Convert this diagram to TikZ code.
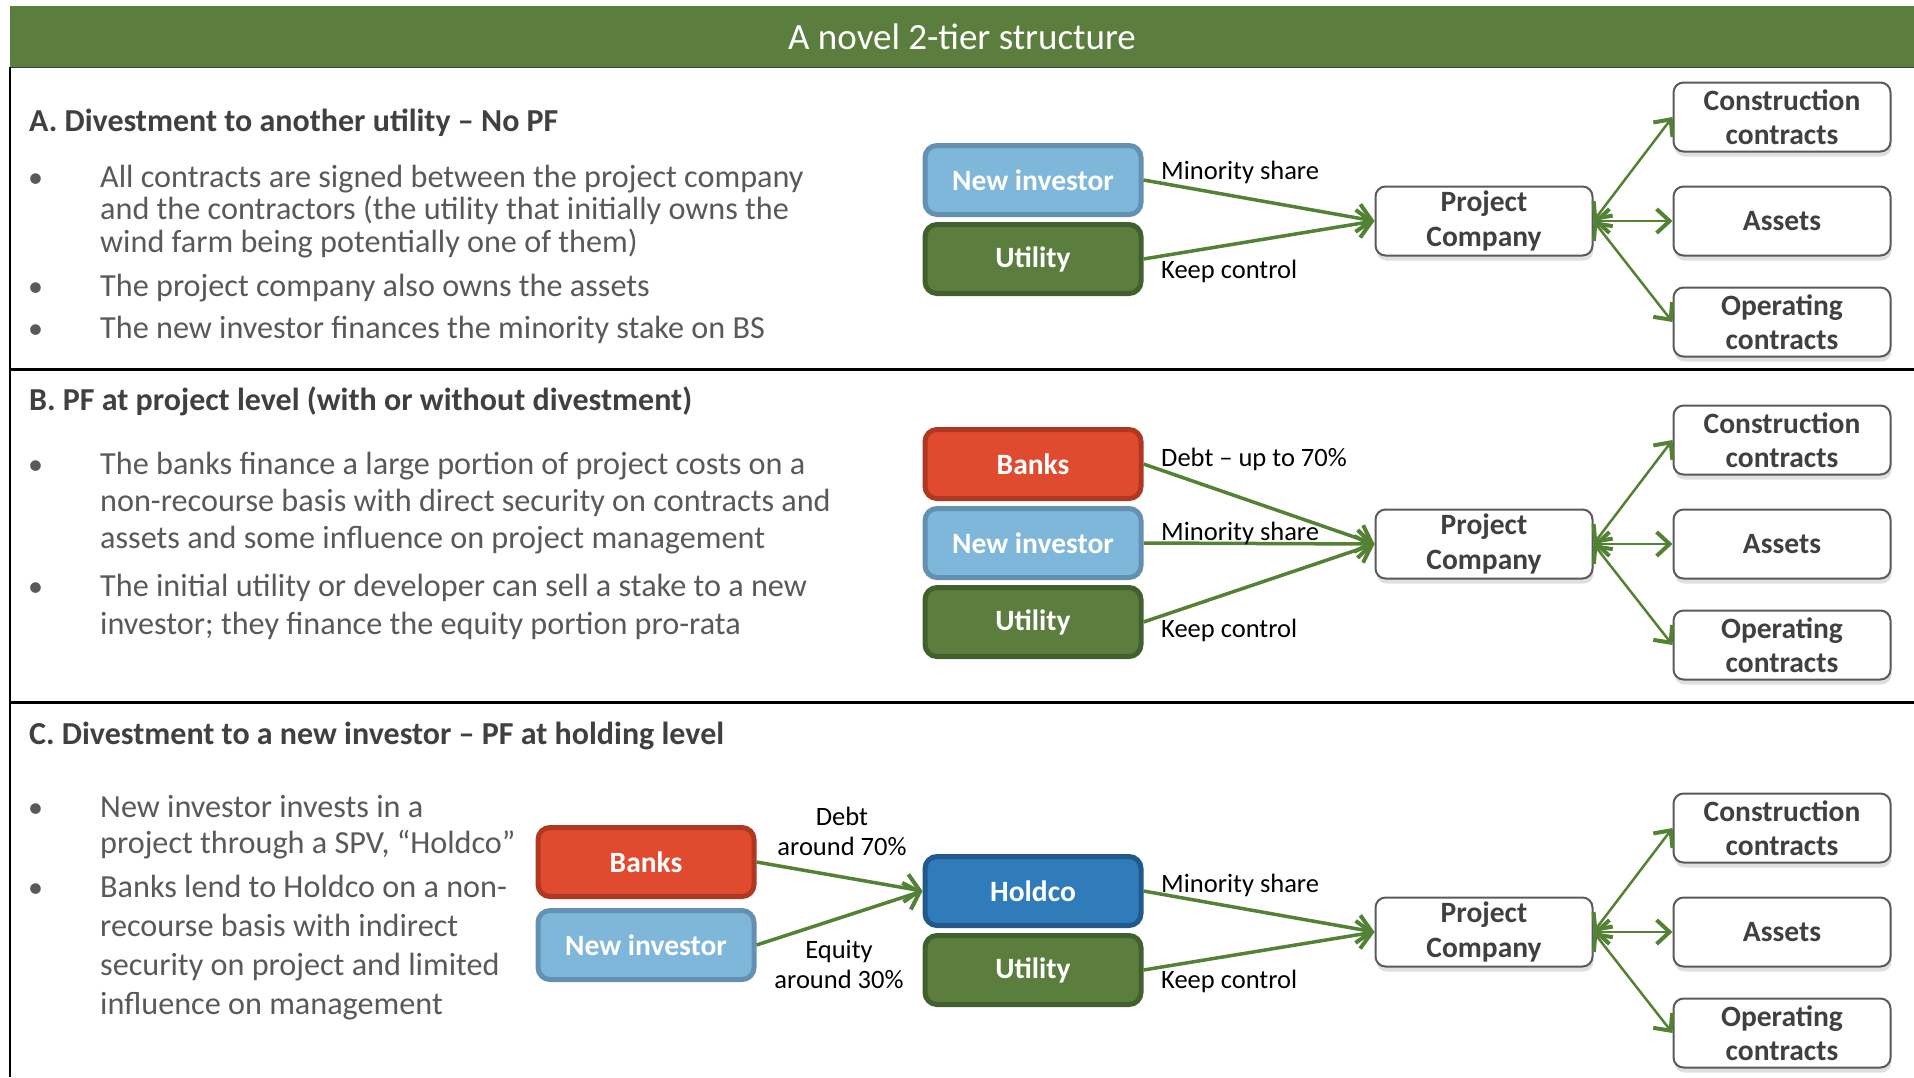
\documentclass[tikz,border=0pt]{standalone}
\usepackage{fontspec}
\setmainfont{Carlito}
\usetikzlibrary{positioning,calc,shadows,arrows.meta}
\definecolor{bargreen}{RGB}{91,126,63}
\definecolor{utilgreen}{RGB}{91,126,63}
\definecolor{utilborder}{RGB}{66,96,45}
\definecolor{investblue}{RGB}{127,183,218}
\definecolor{investborder}{RGB}{100,145,178}
\definecolor{bankred}{RGB}{224,75,48}
\definecolor{bankborder}{RGB}{176,56,34}
\definecolor{holdblue}{RGB}{48,124,186}
\definecolor{holdborder}{RGB}{33,90,138}
\definecolor{arrowgreen}{RGB}{84,130,53}
\definecolor{headgray}{RGB}{64,64,64}
\definecolor{bodygray}{RGB}{89,89,89}
\definecolor{boxgray}{RGB}{90,90,90}

\tikzset{
  party/.style={rounded corners=12pt, line width=5pt, minimum width=216pt,
    minimum height=69pt, inner sep=0pt, text=white,
    font=\fontsize{29.5}{31}\selectfont\bfseries},
  newinv/.style={party, fill=investblue, draw=investborder},
  util/.style={party, fill=utilgreen, draw=utilborder},
  bank/.style={party, fill=bankred, draw=bankborder},
  hold/.style={party, fill=holdblue, draw=holdborder},
  whitebox/.style={rounded corners=10pt, draw=boxgray, line width=2pt, fill=white,
    minimum width=217pt, minimum height=69pt, inner sep=0pt, align=center,
    text=headgray, font=\fontsize{29.5}{34.5}\selectfont\bfseries,
    drop shadow={shadow xshift=1pt, shadow yshift=-5pt, opacity=0.25}},
  flow/.style={arrowgreen, line width=3.5pt,
    -{Straight Barb[length=14pt,width=28pt,line width=4pt]}},
  link/.style={arrowgreen, line width=2.5pt,
    {Straight Barb[length=13pt,width=24pt,line width=4pt]}-{Straight Barb[length=13pt,width=24pt,line width=4pt]}},
  lbl/.style={anchor=west, inner sep=0pt, font=\fontsize{26.5}{30}\selectfont},
  heading/.style={anchor=base west, inner sep=0pt, text=headgray,
    font=\fontsize{32}{32}\selectfont\bfseries},
  body/.style={anchor=base west, inner sep=0pt, align=left, text=bodygray,
    font=\fontsize{32.2}{#1}\selectfont},
  dot/.style={anchor=base west, inner sep=0pt, text=bodygray,
    font=\fontsize{30}{30}\selectfont},
}

\begin{document}
\begin{tikzpicture}[x=1pt, y=-1pt]
    \useasboundingbox (0,0) rectangle (1914,1077);
    % Title bar and frame
    \fill[bargreen] (10,6) rectangle (1914,67);
    \node[text=white, font=\fontsize{37}{40}\selectfont] (title) at (962,37) {A novel 2-tier structure};
    \draw[headgray, line width=1pt] (10,67) -- (1914,67);
    \draw[line width=2pt] (10,67) -- (10,1077);
    \draw[line width=3pt] (10,369) -- (1914,369);
    \draw[line width=3pt] (10,702) -- (1914,702);

    % Section A (multi-line text sits on its last baseline)
    \node[heading] (headA) at (29,131) {A. Divestment to another utility -- No PF};
    \node[dot] (dotA1) at (28,187) {•};
    \node[body=32.5] (txtA1) at (100,252) {All contracts are signed between the project company\\and the contractors (the utility that initially owns the\\wind farm being potentially one of them)};
    \node[dot] (dotA2) at (28,296) {•};
    \node[body=32.5] (txtA2) at (100,296) {The project company also owns the assets};
    \node[dot] (dotA3) at (28,338) {•};
    \node[body=32.5] (txtA3) at (100,338) {The new investor finances the minority stake on BS};

    \node[newinv] (invA) at (1033,180) {New investor};
    \node[util, below=5pt of invA] (utilA) {Utility};
    \node[whitebox] (pcA) at (1484,221) {Project\\Company};
    \node[whitebox, right=79pt of pcA] (astA) {Assets};
    \node[whitebox, above=33pt of astA] (conA) {Construction\\contracts};
    \node[whitebox, below=30pt of astA] (opA) {Operating\\contracts};
    \draw[flow] (invA.east) -- (pcA.west);
    \draw[flow] (utilA.east) -- (pcA.west);
    \draw[link] (pcA.east) -- (conA.west);
    \draw[link] (pcA.east) -- (astA.west);
    \draw[link] (pcA.east) -- (opA.west);
    \node[lbl] (minA) at (1161,172) {Minority share};
    \node[lbl] (keepA) at (1161,271) {Keep control};

    % Section B
    \node[heading] (headB) at (29,410) {B. PF at project level (with or without divestment)};
    \node[dot] (dotB1) at (28,474) {•};
    \node[body=37] (txtB1) at (100,548) {The banks finance a large portion of project costs on a\\non-recourse basis with direct security on contracts and\\assets and some influence on project management};
    \node[dot] (dotB2) at (28,596) {•};
    \node[body=38] (txtB2) at (100,634) {The initial utility or developer can sell a stake to a new\\investor; they finance the equity portion pro-rata};

    \node[newinv] (invB) at (1033,543) {New investor};
    \node[bank, above=5pt of invB] (bankB) {Banks};
    \node[util, below=5pt of invB] (utilB) {Utility};
    \node[whitebox] (pcB) at (1484,544) {Project\\Company};
    \node[whitebox, right=79pt of pcB] (astB) {Assets};
    \node[whitebox, above=33pt of astB] (conB) {Construction\\contracts};
    \node[whitebox, below=30pt of astB] (opB) {Operating\\contracts};
    \draw[flow] (bankB.east) -- (pcB.west);
    \draw[flow] (invB.east) -- (pcB.west);
    \draw[flow] (utilB.east) -- (pcB.west);
    \draw[link] (pcB.east) -- (conB.west);
    \draw[link] (pcB.east) -- (astB.west);
    \draw[link] (pcB.east) -- (opB.west);
    \node[lbl] (debtB) at (1161,459) {Debt -- up to 70\%};
    \node[lbl] (minB) at (1161,533) {Minority share};
    \node[lbl] (keepB) at (1161,630) {Keep control};

    % Section C
    \node[heading] (headC) at (29,744) {C. Divestment to a new investor -- PF at holding level};
    \node[dot] (dotC1) at (28,817) {•};
    \node[body=36] (txtC1) at (100,853) {New investor invests in a\\project through a SPV, “Holdco”};
    \node[dot] (dotC2) at (28,897) {•};
    \node[body=39] (txtC2) at (100,1014) {Banks lend to Holdco on a non-\\recourse basis with indirect\\security on project and limited\\influence on management};

    \node[bank] (bankC) at (646,862) {Banks};
    \node[newinv, below=9pt of bankC] (invC) {New investor};
    \node[hold] (holdC) at (1033,891) {Holdco};
    \node[util, below=5pt of holdC] (utilC) {Utility};
    \node[whitebox] (pcC) at (1484,932) {Project\\Company};
    \node[whitebox, right=79pt of pcC] (astC) {Assets};
    \node[whitebox, above=33pt of astC] (conC) {Construction\\contracts};
    \node[whitebox, below=30pt of astC] (opC) {Operating\\contracts};
    \draw[flow] (bankC.east) -- (holdC.west);
    \draw[flow] (invC.east) -- (holdC.west);
    \draw[flow] (holdC.east) -- (pcC.west);
    \draw[flow] (utilC.east) -- (pcC.west);
    \draw[link] (pcC.east) -- (conC.west);
    \draw[link] (pcC.east) -- (astC.west);
    \draw[link] (pcC.east) -- (opC.west);
    \node[lbl, anchor=center, align=center] (debtC) at (842,831) {Debt\\around 70\%};
    \node[lbl, anchor=center, align=center] (eqC) at (839,964) {Equity\\around 30\%};
    \node[lbl] (minC) at (1161,885) {Minority share};
    \node[lbl] (keepC) at (1161,981) {Keep control};
\end{tikzpicture}
\end{document}
